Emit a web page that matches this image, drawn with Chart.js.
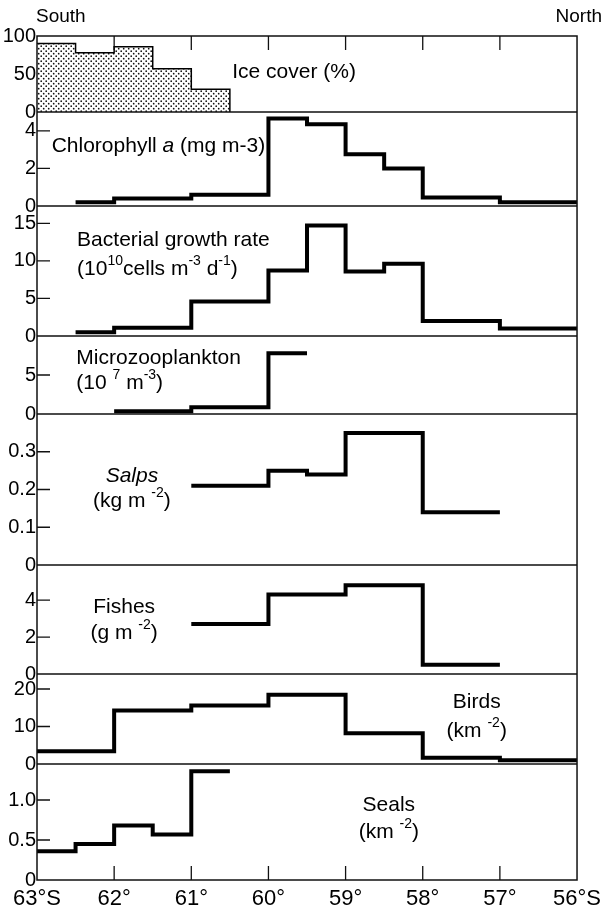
<!DOCTYPE html>
<html>
<head>
<meta charset="utf-8">
<script src="https://cdn.jsdelivr.net/npm/chart.js@4.4.1/dist/chart.umd.min.js"></script>
<style>
  html, body { margin: 0; padding: 0; background: #fff; }
</style>
</head>
<body>
<canvas id="chart" width="607" height="913"></canvas>
<script>
// x axis: latitude (°S), south on the left
const latTicks = [63, 62, 61, 60, 59, 58, 57, 56];
const latLabels = ["63°S", "62°", "61°", "60°", "59°", "58°", "57°", "56°S"];

// each series = bin edges (°S) + one value per bin
const iceEdges = [63, 62.5, 62, 61.5, 61, 60.5];
const iceCover = [90, 78, 86, 57, 30];

const chlEdges = [62.5, 62, 61, 60, 59.5, 59, 58.5, 58, 57, 56];
const chlorophyll = [0.2, 0.4, 0.6, 4.65, 4.35, 2.75, 2.0, 0.45, 0.2];

const bactEdges = [62.5, 62, 61, 60, 59.5, 59, 58.5, 58, 57, 56];
const bacteria = [0.5, 1.1, 4.6, 8.7, 14.7, 8.6, 9.6, 2.0, 1.0];

const microEdges = [62, 61, 60, 59.5];
const microzoo = [0.35, 0.85, 7.8];

const salpEdges = [61, 60, 59.5, 59, 58, 57];
const salps = [0.21, 0.25, 0.24, 0.35, 0.14];

const fishEdges = [61, 60, 59, 58, 57];
const fishes = [2.7, 4.3, 4.8, 0.5];

const birdEdges = [63, 62, 61, 60, 59, 58, 57, 56];
const birds = [3.4, 14.3, 15.6, 18.5, 8.2, 1.7, 1.0];

const sealEdges = [63, 62.5, 62, 61.5, 61, 60.5];
const seals = [0.36, 0.45, 0.68, 0.57, 1.36];

// y ticks per panel
const iceTicks = [0, 50, 100];
const chlTicks = [0, 2, 4];
const bactTicks = [0, 5, 10, 15];
const microTicks = [0, 5];
const salpTicks = [0, 0.1, 0.2, 0.3];
const fishTicks = [0, 2, 4];
const birdTicks = [0, 10, 20];
const sealTicks = [0, 0.5, 1.0];

const FONT = "'Liberation Sans', Arial, Helvetica, sans-serif";
Chart.defaults.font.family = FONT;
Chart.defaults.color = "#000";

/* panels, top to bottom */
const panels = [
  { id: "yIce",   max: 100,  ticks: iceTicks,   dec: 0, h: 76 },
  { id: "yChl",   max: 5,    ticks: chlTicks,   dec: 0, h: 94 },
  { id: "yBact",  max: 17.3, ticks: bactTicks,  dec: 0, h: 130 },
  { id: "yMicro", max: 10,   ticks: microTicks, dec: 0, h: 78 },
  { id: "ySalp",  max: 0.4,  ticks: salpTicks,  dec: 1, h: 151 },
  { id: "yFish",  max: 5.9,  ticks: fishTicks,  dec: 0, h: 109 },
  { id: "yBird",  max: 24,   ticks: birdTicks,  dec: 0, h: 90 },
  { id: "ySeal",  max: 1.45, ticks: sealTicks,  dec: 1, h: 116 }
];

// panel captions, anchored in data units of their own panel
const captions = [
  { axis: "yIce", x: 60.47, align: "left", lines: [
    { y: 52, runs: [{ t: "Ice cover (%)" }] } ] },
  { axis: "yChl", x: 62.81, align: "left", lines: [
    { y: 3.2, runs: [{ t: "Chlorophyll " }, { t: "a", it: true }, { t: " (mg m-3)" }] } ] },
  { axis: "yBact", x: 62.48, align: "left", lines: [
    { y: 12.8, runs: [{ t: "Bacterial growth rate" }] },
    { y: 8.9, runs: [{ t: "(10" }, { t: "10", sup: true }, { t: "cells m" }, { t: "-3", sup: true }, { t: " d" }, { t: "-1", sup: true }, { t: ")" }] } ] },
  { axis: "yMicro", x: 62.49, align: "left", lines: [
    { y: 7.2, runs: [{ t: "Microzooplankton" }] },
    { y: 4.0, runs: [{ t: "(10 " }, { t: "7", sup: true }, { t: " m" }, { t: "-3", sup: true }, { t: ")" }] } ] },
  { axis: "ySalp", x: 61.77, align: "center", lines: [
    { y: 0.235, runs: [{ t: "Salps", it: true }] },
    { y: 0.17, runs: [{ t: "(kg m " }, { t: "-2", sup: true }, { t: ")" }] } ] },
  { axis: "yFish", x: 61.87, align: "center", lines: [
    { y: 3.6, runs: [{ t: "Fishes" }] },
    { y: 2.2, runs: [{ t: "(g m " }, { t: "-2", sup: true }, { t: ")" }] } ] },
  { axis: "yBird", x: 57.3, align: "center", lines: [
    { y: 16.5, runs: [{ t: "Birds" }] },
    { y: 8.7, runs: [{ t: "(km " }, { t: "-2", sup: true }, { t: ")" }] } ] },
  { axis: "ySeal", x: 58.44, align: "center", lines: [
    { y: 0.93, runs: [{ t: "Seals" }] },
    { y: 0.6, runs: [{ t: "(km " }, { t: "-2", sup: true }, { t: ")" }] } ] }
];

function steps(edges, vals) {
  const pts = vals.map((v, i) => ({ x: edges[i], y: v }));
  pts.push({ x: edges[edges.length - 1], y: vals[vals.length - 1] });
  return pts;
}

function dotPattern() {
  const c = document.createElement("canvas");
  c.width = 5; c.height = 5;
  const g = c.getContext("2d");
  g.fillStyle = "#fff";
  g.fillRect(0, 0, 5, 5);
  g.fillStyle = "#111";
  [[1.2, 1.2], [3.7, 3.7]].forEach(([x, y]) => {
    g.beginPath(); g.arc(x, y, 0.85, 0, Math.PI * 2); g.fill();
  });
  return g.createPattern(c, "repeat");
}

function line(axis, pts, extra) {
  return Object.assign({
    data: pts, yAxisID: axis, xAxisID: "x",
    borderColor: "#000", borderWidth: 4, pointRadius: 0,
    stepped: true, fill: false, borderJoinStyle: "miter", borderCapStyle: "butt"
  }, extra || {});
}

const icePts = steps(iceEdges, iceCover);
icePts.push({ x: iceEdges[iceEdges.length - 1], y: 0 });

const datasets = [
  line("yIce", icePts, { borderWidth: 1.5, fill: "origin", backgroundColor: dotPattern() }),
  line("yChl", steps(chlEdges, chlorophyll)),
  line("yBact", steps(bactEdges, bacteria)),
  line("yMicro", steps(microEdges, microzoo)),
  line("ySalp", steps(salpEdges, salps)),
  line("yFish", steps(fishEdges, fishes)),
  line("yBird", steps(birdEdges, birds)),
  line("ySeal", steps(sealEdges, seals))
];

/* ================= SCALES ================= */

const scales = {
  x: {
    type: "linear", reverse: true, min: 56, max: 63,
    grid: { display: false, drawTicks: false }, border: { display: false },
    afterBuildTicks: s => { s.ticks = latTicks.map(v => ({ value: v })); },
    afterFit: s => { s.height = 33; },
    ticks: {
      padding: 6, font: { size: 22 }, maxRotation: 0, autoSkip: false,
      callback: v => latLabels[latTicks.indexOf(v)]
    }
  }
};

panels.forEach((p, i) => {
  scales[p.id] = {
    type: "linear", position: "left",
    stack: "panels", stackWeight: p.h, weight: panels.length - i,
    min: 0, max: p.max,
    grid: { display: false, drawTicks: false }, border: { display: false },
    afterBuildTicks: s => { s.ticks = p.ticks.map(v => ({ value: v })); },
    afterFit: s => { s.width = 37; },
    ticks: {
      padding: 1, font: { size: 20 }, autoSkip: false,
      callback: v => v === 0 ? "0" : v.toFixed(p.dec)
    }
  };
});

/* ================= FRAME + TEXT ================= */

function drawRuns(ctx, runs, x, y, align) {
  const fontOf = r => `${r.it ? "italic " : ""}${r.sup ? 14 : 21}px ${FONT}`;
  let w = 0;
  runs.forEach(r => { ctx.font = fontOf(r); w += ctx.measureText(r.t).width; });
  let cx = align === "center" ? x - w / 2 : x;
  ctx.textAlign = "left";
  ctx.textBaseline = "middle";
  runs.forEach(r => {
    ctx.font = fontOf(r);
    ctx.fillText(r.t, cx, r.sup ? y - 8 : y);
    cx += ctx.measureText(r.t).width;
  });
}

const frame = {
  id: "frame",
  beforeDatasetsDraw(chart) {
    const { ctx, chartArea: a, scales: sc } = chart;
    ctx.save();
    ctx.strokeStyle = "#111";
    ctx.lineWidth = 1.3;
    ctx.beginPath();
    // inward latitude ticks, bottom of last panel and top of first
    latTicks.slice(1, -1).forEach(v => {
      const x = sc.x.getPixelForValue(v);
      ctx.moveTo(x, a.bottom); ctx.lineTo(x, a.bottom - 14);
      ctx.moveTo(x, a.top); ctx.lineTo(x, a.top + 14);
    });
    // inward value ticks
    panels.forEach(p => {
      const s = sc[p.id];
      p.ticks.forEach(v => {
        if (v === 0 || v >= p.max) return;
        const y = s.getPixelForValue(v);
        ctx.moveTo(a.left, y); ctx.lineTo(a.left + 13, y);
      });
    });
    ctx.stroke();
    ctx.restore();
  },
  afterDatasetsDraw(chart) {
    const { ctx, chartArea: a, scales: sc } = chart;
    ctx.save();
    ctx.strokeStyle = "#111";
    ctx.lineWidth = 1.5;
    ctx.strokeRect(a.left, a.top, a.right - a.left, a.bottom - a.top);
    ctx.beginPath();
    panels.slice(0, -1).forEach(p => {
      const y = sc[p.id].bottom;
      ctx.moveTo(a.left, y); ctx.lineTo(a.right, y);
    });
    ctx.stroke();

    ctx.fillStyle = "#000";
    captions.forEach(c => {
      const s = sc[c.axis];
      const x = sc.x.getPixelForValue(c.x);
      c.lines.forEach(l => drawRuns(ctx, l.runs, x, s.getPixelForValue(l.y), c.align));
    });

    ctx.font = `19px ${FONT}`;
    ctx.textBaseline = "middle";
    ctx.textAlign = "left";
    ctx.fillText("South", a.left - 1, 17);
    ctx.textAlign = "right";
    ctx.fillText("North", 602, 17);
    ctx.restore();
  }
};

new Chart(document.getElementById("chart"), {
  type: "line",
  data: { datasets },
  options: {
    responsive: false,
    animation: false,
    layout: { padding: { top: 36, right: 17, bottom: 0, left: 0 } },
    plugins: { legend: { display: false }, tooltip: { enabled: false } },
    scales
  },
  plugins: [frame]
});
</script>
</body>
</html>
